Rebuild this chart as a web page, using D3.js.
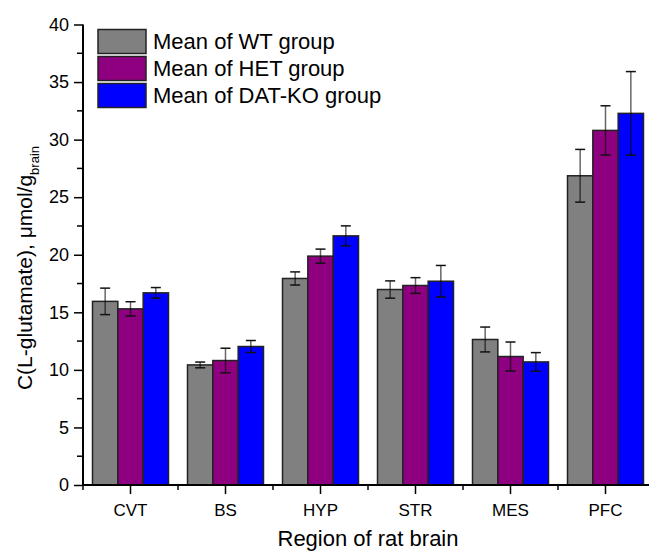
<html>
<head>
  <title>glutamate bars</title>
  <script src="https://d3js.org/d3.v7.min.js"></script>
  <style>
    body { margin: 0; background: #fff; }
    text { font-family: Arial, "Liberation Sans", sans-serif; }
  </style>
</head>
<body>
<script>
    // data
    var regions = ['CVT', 'BS', 'HYP', 'STR', 'MES', 'PFC'];
    var groups = ['Mean of WT group', 'Mean of HET group', 'Mean of DAT-KO group'];
    var colors = ['#808080', '#8f0080', '#0000ff'];

    var wt_mean  = [15.95, 10.43, 17.94, 16.98, 12.64, 26.86];
    var wt_err   = [1.15, 0.25, 0.57, 0.75, 1.08, 2.29];
    var het_mean = [15.3, 10.81, 19.88, 17.33, 11.16, 30.8];
    var het_err  = [0.62, 1.07, 0.61, 0.68, 1.26, 2.14];
    var ko_mean  = [16.69, 12.03, 21.64, 17.7, 10.69, 32.28];
    var ko_err   = [0.46, 0.52, 0.87, 1.37, 0.81, 3.63];

    var yTicks = [0, 5, 10, 15, 20, 25, 30, 35, 40];

    var means = [wt_mean, het_mean, ko_mean];
    var errs = [wt_err, het_err, ko_err];

    var width = 649, height = 552;
    var svg = d3.select('body').append('svg')
        .attr('width', width)
        .attr('height', height);

    var x0 = d3.scaleBand()
        .domain(regions)
        .range([83, 653])
        .paddingInner(0.2)
        .paddingOuter(0.1);

    var x1 = d3.scaleBand()
        .domain(groups)
        .range([0, x0.bandwidth()]);

    var y = d3.scaleLinear()
        .domain([0, 40])
        .range([485, 24.5]);

    var bars = [];
    regions.forEach(function(r, i) {
        groups.forEach(function(g, j) {
            bars.push({region: r, group: g, color: colors[j], v: means[j][i], e: errs[j][i]});
        });
    });

    var barG = svg.append('g');
    barG.selectAll('rect')
        .data(bars)
        .enter()
        .append('rect')
        .attr('x', d => x0(d.region) + x1(d.group))
        .attr('y', d => y(d.v))
        .attr('width', x1.bandwidth())
        .attr('height', d => y(0) - y(d.v))
        .attr('fill', d => d.color)
        .attr('stroke', '#222')
        .attr('stroke-width', 1.5);

    // error bars
    var errG = svg.append('g');
    var cx = d => x0(d.region) + x1(d.group) + x1.bandwidth() / 2;
    errG.selectAll('line.v')
        .data(bars)
        .enter()
        .append('line')
        .attr('class', 'v')
        .attr('x1', cx).attr('x2', cx)
        .attr('y1', d => y(d.v + d.e))
        .attr('y2', d => y(d.v - d.e))
        .attr('stroke', '#000')
        .attr('stroke-opacity', 0.6)
        .attr('stroke-width', 1.5);
    [1, -1].forEach(function(s) {
        errG.selectAll('line.c' + (s > 0 ? 'a' : 'b'))
            .data(bars)
            .enter()
            .append('line')
            .attr('x1', d => cx(d) - 5)
            .attr('x2', d => cx(d) + 5)
            .attr('y1', d => y(d.v + s * d.e))
            .attr('y2', d => y(d.v + s * d.e))
            .attr('stroke', '#111')
            .attr('stroke-width', 1.5);
    });

    // y axis
    var yAxis = d3.axisLeft(y)
        .tickValues(yTicks)
        .tickSize(9)
        .tickPadding(5)
        .tickFormat(d3.format('d'));
    var yg = svg.append('g')
        .attr('transform', 'translate(83,0)')
        .call(yAxis);
    yg.select('.domain').attr('stroke-width', 2).attr('d', 'M0,' + y(40) + 'V' + y(0));
    yg.selectAll('.tick line').attr('stroke-width', 1.5);
    yg.selectAll('.tick text').attr('font-size', 18).attr('fill', '#000');
    // minor ticks
    yg.selectAll('line.minor')
        .data(d3.range(2.5, 40, 5))
        .enter()
        .append('line')
        .attr('x1', -6).attr('x2', 0)
        .attr('y1', d => y(d)).attr('y2', d => y(d))
        .attr('stroke', '#000')
        .attr('stroke-width', 1.5);

    // x axis
    var xAxis = d3.axisBottom(x0)
        .tickSize(9)
        .tickPadding(10)
        .tickSizeOuter(0);
    var xg = svg.append('g')
        .attr('transform', 'translate(0,' + y(0) + ')')
        .call(xAxis);
    xg.select('.domain').attr('stroke-width', 2).attr('d', 'M83,0H653');
    xg.selectAll('.tick line').attr('stroke-width', 1.5);
    xg.selectAll('.tick text').attr('font-size', 17).attr('fill', '#000');
    var step = x0.step();
    xg.selectAll('line.minor')
        .data(regions)
        .enter()
        .append('line')
        .attr('x1', d => x0(d) - step * 0.1)
        .attr('x2', d => x0(d) - step * 0.1)
        .attr('y1', 0).attr('y2', 5)
        .attr('stroke', '#000')
        .attr('stroke-width', 1.5);

    // axis titles
    svg.append('text')
        .attr('x', 368)
        .attr('y', 546)
        .attr('text-anchor', 'middle')
        .attr('font-size', 22)
        .text('Region of rat brain');

    var yt = svg.append('text')
        .attr('transform', 'translate(32,268) rotate(-90)')
        .attr('text-anchor', 'middle')
        .attr('font-size', 21);
    yt.append('tspan').text('C(L-glutamate), \u03bcmol/g');
    yt.append('tspan').attr('font-size', 13).attr('dy', 7).text('brain');

    // legend
    var leg = svg.append('g');
    var legItems = leg.selectAll('g')
        .data(groups)
        .enter()
        .append('g')
        .attr('transform', (d, i) => 'translate(98,' + (29.5 + i * 27) + ')');
    legItems.append('rect')
        .attr('width', 48)
        .attr('height', 24)
        .attr('fill', (d, i) => colors[i])
        .attr('stroke', '#222')
        .attr('stroke-width', 1.5);
    legItems.append('text')
        .attr('x', 55)
        .attr('y', 19.5)
        .attr('font-size', 22)
        .text(d => d);
</script>
</body>
</html>
